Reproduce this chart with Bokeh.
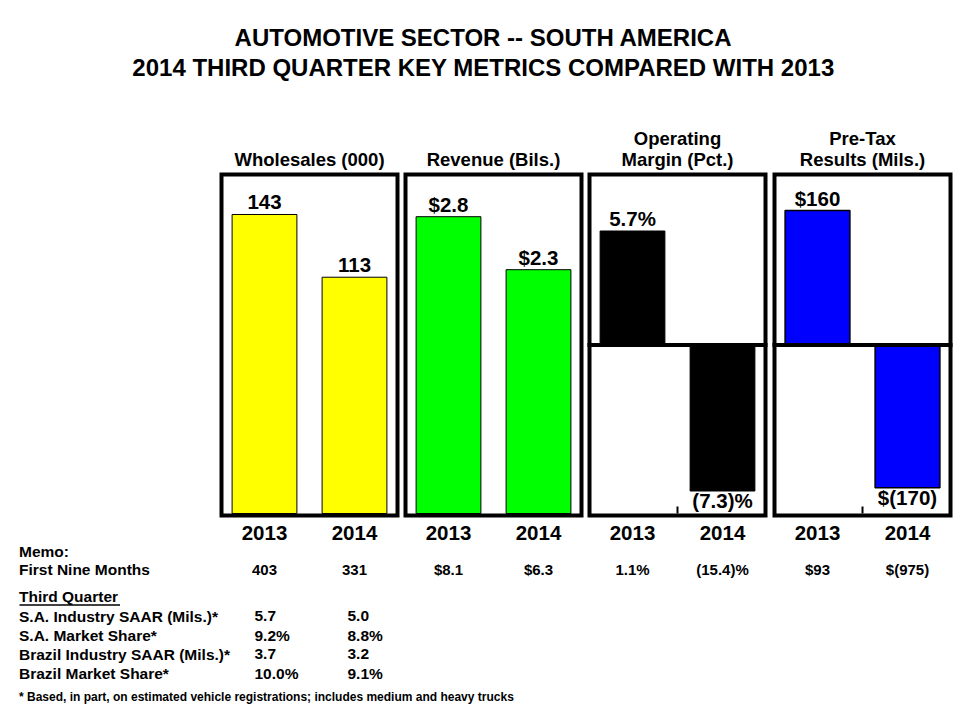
from bokeh.plotting import figure
from bokeh.models import Range1d, ColumnDataSource
from bokeh.embed import file_html
from bokeh.resources import INLINE
from bokeh.core.properties import value

# ---------------- data ----------------
title_lines = ["AUTOMOTIVE SECTOR -- SOUTH AMERICA",
               "2014 THIRD QUARTER KEY METRICS COMPARED WITH 2013"]
years = ["2013", "2014"]
panel_titles = [["Wholesales (000)"], ["Revenue (Bils.)"],
                ["Operating", "Margin (Pct.)"], ["Pre-Tax", "Results (Mils.)"]]
wholesales = [143, 113]
revenue = [2.8, 2.3]
op_margin = [5.7, -7.3]
pretax = [160, -170]
wholesales_lbl = ["143", "113"]
revenue_lbl = ["$2.8", "$2.3"]
op_margin_lbl = ["5.7%", "(7.3)%"]
pretax_lbl = ["$160", "$(170)"]
nine_months = [["403", "331"], ["$8.1", "$6.3"], ["1.1%", "(15.4)%"], ["$93", "$(975)"]]
tq_labels = ["S.A. Industry SAAR (Mils.)*", "S.A. Market Share*",
             "Brazil Industry SAAR (Mils.)*", "Brazil Market Share*"]
tq_2013 = ["5.7", "9.2%", "3.7", "10.0%"]
tq_2014 = ["5.0", "8.8%", "3.2", "9.1%"]
footnote = "* Based, in part, on estimated vehicle registrations; includes medium and heavy trucks"
colors = ["#FFFF00", "#00FF00", "#000000", "#0000FF"]

series = [wholesales, revenue, op_margin, pretax]
series_lbl = [wholesales_lbl, revenue_lbl, op_margin_lbl, pretax_lbl]

# ---------------- layout (page pixels, origin top-left) ----------------
W, H = 960, 720
FONT = value("Liberation Sans")
BL = 0.4  # shift so that given y is the text's baseline
panel_left = [219, 403, 587, 772]
PW = 180
cat_w = PW / 2.0
box_top, box_bot = 174, 515
zero_px = [513, 513, 344.5, 344.5]
px_per_unit = [2.091, 106.0, 20.0, 0.84]
has_zero_line = [False, False, True, True]


def base(y, fs):
    return [v - BL * fs for v in y]


def txt(x, y, text, fs, align="left", **kw):
    p.text(x=x, y=base(y, fs), text=text, text_font=FONT, text_font_size=f"{fs}px",
           text_font_style="bold", text_align=align, text_baseline="alphabetic",
           text_color="black", **kw)


p = figure(width=W, height=H, x_range=Range1d(0, W), y_range=Range1d(H, 0),
           output_backend="svg", toolbar_location=None, min_border=0,
           x_axis_location=None, y_axis_location=None)
p.grid.visible = False
p.outline_line_color = None
p.background_fill_color = "white"
p.border_fill_color = "white"

# titles
txt([483, 483], [46.7, 76.7], title_lines, 24, align="center")

for k in range(4):
    L = panel_left[k]
    xn, yn = f"x{k}", f"y{k}"
    p.extra_x_ranges[xn] = Range1d(start=(0 - L) / cat_w - 0.5, end=(W - L) / cat_w - 0.5)
    z, s = zero_px[k], px_per_unit[k]
    p.extra_y_ranges[yn] = Range1d(start=(z - H) / s, end=z / s)

    vals = series[k]
    idx = list(range(len(years)))
    # bars
    p.vbar(x=idx, top=vals, bottom=0, width=0.72, x_range_name=xn, y_range_name=yn,
           fill_color=colors[k], line_color="black", line_width=1.5 if k == 3 else 1)
    # zero line and category tick
    if has_zero_line[k]:
        p.segment(x0=[-0.5], x1=[1.5], y0=[0], y1=[0], x_range_name=xn, y_range_name=yn,
                  line_color="black", line_width=4)
        p.segment(x0=[0.5], x1=[0.5], y0=[506], y1=[513], x_range_name=xn,
                  line_color="black", line_width=2)
    # panel box
    p.quad(left=[L + 2], right=[L + PW - 2], top=[box_top], bottom=[box_bot],
           fill_color=None, line_color="black", line_width=4, line_join="miter")
    # bar value labels
    fs = 20.5
    src = ColumnDataSource(dict(x=idx, y=vals, t=series_lbl[k],
                                off=[(-4 if v >= 0 else 18) - BL * fs for v in vals]))
    p.text(x="x", y="y", text="t", y_offset="off", source=src, x_range_name=xn,
           y_range_name=yn, text_font=FONT, text_font_size=f"{fs}px", text_font_style="bold",
           text_align="center", text_baseline="alphabetic", text_color="black")
    # panel titles
    lines = panel_titles[k]
    ty = [166.7] if len(lines) == 1 else [145.0, 166.7]
    txt([0.5] * len(lines), ty, lines, 18.5, align="center", x_range_name=xn)
    # year labels
    txt(idx, [540.7] * len(years), years, 20.5, align="center", x_range_name=xn)
    # first nine months memo row
    txt(idx, [575] * len(years), nine_months[k], 15, align="center", x_range_name=xn)

# memo section (left)
txt([18.5, 18.5, 18.5], [557.3, 575, 601.7], ["Memo:", "First Nine Months", "Third Quarter"], 15.5)
p.segment(x0=[19], x1=[119.5], y0=[604.5], y1=[604.5], line_color="black", line_width=1.5)

row_y = [621.7, 640.7, 660.0, 679.3]
txt([18.5] * 4, row_y, tq_labels, 15.5)
txt([254] * 4, row_y, tq_2013, 15.5)
txt([347] * 4, row_y, tq_2014, 15.5)

txt([18.5], [701.7], [footnote], 12)

open("out.html", "w").write(file_html(p, INLINE))
